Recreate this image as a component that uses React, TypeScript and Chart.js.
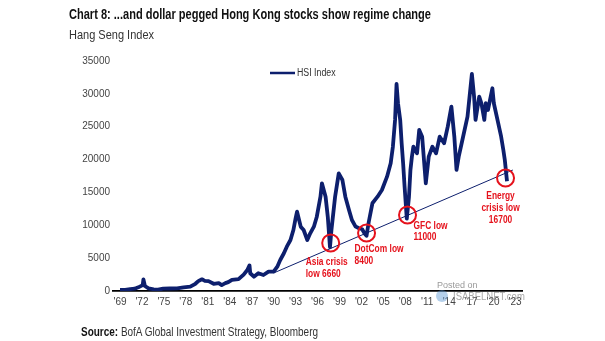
import React, { useEffect, useLayoutEffect, useRef } from 'react';
import { Chart, registerables } from 'chart.js';

Chart.register(...registerables);

// ---- data (x in axis-label years) ----
const hsiYears = [
  1969.0, 1969.7, 1970.4, 1971.0, 1971.5, 1972.1, 1972.2, 1972.4, 1972.9, 1973.6,
  1974.2, 1974.9, 1975.8, 1976.8, 1977.7, 1978.6, 1979.3, 1979.7, 1980.2, 1980.6,
  1981.1, 1981.8, 1982.5, 1982.9, 1983.4, 1983.8, 1984.3, 1985.2, 1985.9, 1986.4,
  1986.7, 1986.8, 1987.3, 1987.9, 1988.6, 1989.3, 1990.0, 1990.5, 1990.9, 1991.4,
  1991.8, 1992.3, 1992.7, 1993.0, 1993.2, 1993.7, 1994.1, 1994.6, 1995.0, 1995.5,
  1995.9, 1996.4, 1996.6, 1997.1, 1997.4, 1997.7, 1997.9, 1998.4, 1998.9, 1999.4,
  1999.8, 2000.3, 2000.7, 2001.2, 2001.6, 2002.1, 2002.4, 2002.7, 2003.0, 2003.5,
  2004.2, 2004.8, 2005.5, 2006.0, 2006.3, 2006.6, 2006.8, 2007.0, 2007.3, 2007.5,
  2007.7, 2007.9, 2008.2, 2008.5, 2008.7, 2008.9, 2009.1, 2009.6, 2009.9, 2010.3,
  2010.8, 2011.2, 2011.7, 2012.2, 2012.7, 2013.3, 2013.8, 2014.3, 2014.7, 2015.0,
  2015.3, 2015.8, 2016.5, 2017.1, 2017.4, 2017.6, 2018.1, 2018.4, 2018.8, 2019.0,
  2019.3, 2019.9, 2020.1, 2020.6, 2021.1, 2021.4, 2021.6, 2021.9,
];
const hsiValues = [
  150, 180, 300, 350, 560, 900, 1780, 760, 400, 260,
  200, 350, 380, 400, 560, 650, 1100, 1500, 1780, 1550,
  1500, 1100, 1200, 900, 1200, 1350, 1700, 1800, 2500, 3200,
  3900, 2700, 2180, 2700, 2430, 2940, 2940, 3700, 4720, 5740,
  6750, 7760, 9280, 11060, 12070, 9790, 9280, 7760, 8780, 9790,
  11310, 14350, 16390, 14350, 11310, 6660, 9280, 14350, 17900, 16890,
  14350, 12330, 10800, 9800, 9600, 9400, 8800, 8400, 10500, 13350,
  14350, 15370, 17400, 19430, 21960, 26030, 31500, 28570, 26030, 22480,
  19430, 15870, 11000, 14350, 18420, 20440, 21960, 20950, 24500, 23480,
  16390, 20440, 21960, 20950, 23480, 22480, 25010, 28050, 23480, 18420,
  20440, 22980, 26530, 33030, 29570, 26030, 29570, 28570, 26030, 28570,
  27550, 30850, 28570, 26030, 23480, 21460, 19940, 16700,
];
const trendYears = [1990.0, 2022.7];
const trendValues = [2740, 18410];

const xTickYears = [1969, 1972, 1975, 1978, 1981, 1984, 1987, 1990, 1993, 1996, 1999, 2002, 2005, 2008, 2011, 2014, 2017, 2020, 2023];
const yTickValues = [0, 5000, 10000, 15000, 20000, 25000, 30000, 35000];

const annoYears = [1997.8, 2002.7, 2008.3, 2021.7];
const annoValues = [7300, 8830, 11560, 17190];
const annoLabels = [
  ['Asia crisis', 'low 6660'],
  ['DotCom low', '8400'],
  ['GFC low', '11000'],
  ['Energy', 'crisis low', '16700'],
];

// ---- styles / layout ----
const NAVY = '#0d1f6d';
const RED = '#e5121c';
const SANS = '"Liberation Sans", Arial, sans-serif';
// text placement relative to each circle: [dx, dy of first line, line height, align]
const annoPlacement: [number, number, number, CanvasTextAlign][] = [
  [-25, 19, 12, 'left'],
  [-12, 16, 12, 'left'],
  [6, 11, 11, 'left'],
  [-5, 18, 12, 'center'],
];

function drawCondensed(ctx: CanvasRenderingContext2D, text: string, x: number, y: number, sx: number, align: CanvasTextAlign) {
  ctx.save();
  ctx.translate(x, y);
  ctx.scale(sx, 1);
  ctx.textAlign = align;
  ctx.fillText(text, 0, 0);
  ctx.restore();
}

const overlayPlugin = {
  id: 'overlay',
  afterDatasetsDraw(chart: any) {
    const ctx: CanvasRenderingContext2D = chart.ctx;
    const xs = chart.scales.x;
    const ys = chart.scales.y;
    const area = chart.chartArea;
    ctx.save();
    // legend
    const lx = area.left + 157;
    const ly = area.top + 12;
    ctx.strokeStyle = NAVY;
    ctx.lineWidth = 2.5;
    ctx.beginPath();
    ctx.moveTo(lx, ly);
    ctx.lineTo(lx + 25, ly);
    ctx.stroke();
    ctx.fillStyle = '#333';
    ctx.font = `10px ${SANS}`;
    ctx.textBaseline = 'middle';
    drawCondensed(ctx, 'HSI Index', lx + 27, ly + 0.5, 0.88, 'left');

    // annotations
    for (let i = 0; i < annoYears.length; i++) {
      const cx = xs.getPixelForValue(annoYears[i]);
      const cy = ys.getPixelForValue(annoValues[i]);
      ctx.strokeStyle = RED;
      ctx.lineWidth = 2;
      ctx.beginPath();
      ctx.arc(cx, cy, 8.5, 0, Math.PI * 2);
      ctx.stroke();
      const [dx, dy, lh, align] = annoPlacement[i];
      ctx.fillStyle = RED;
      ctx.font = `bold 10.5px ${SANS}`;
      ctx.textBaseline = 'middle';
      annoLabels[i].forEach((t, k) => {
        drawCondensed(ctx, t, cx + dx, cy + dy + k * lh, 0.8, align);
      });
    }

    // watermark
    ctx.fillStyle = '#9a9a9a';
    ctx.textBaseline = 'middle';
    ctx.font = `9px ${SANS}`;
    drawCondensed(ctx, 'Posted on', 437, 286, 1, 'left');
    ctx.font = `10px ${SANS}`;
    ctx.fillStyle = 'rgba(130,130,130,0.7)';
    drawCondensed(ctx, 'ISABELNET.com', 453, 297, 0.95, 'left');
    ctx.fillStyle = 'rgba(90,150,210,0.45)';
    ctx.beginPath();
    ctx.arc(442, 296, 6, 0, Math.PI * 2);
    ctx.fill();
    ctx.restore();
  },
};

function FitText({ left, top, width, style, children }: any) {
  const ref = useRef<HTMLSpanElement>(null);
  useLayoutEffect(() => {
    const el = ref.current;
    if (!el) return;
    el.style.transform = 'none';
    const w = el.getBoundingClientRect().width;
    if (w > 0) el.style.transform = `scaleX(${width / w})`;
  });
  return (
    <span
      ref={ref}
      style={{ position: 'absolute', left, top, whiteSpace: 'nowrap', transformOrigin: '0 0', lineHeight: 1, ...style }}
    >
      {children}
    </span>
  );
}

export default function App() {
  const canvasRef = useRef<HTMLCanvasElement>(null);

  useEffect(() => {
    document.body.style.margin = '0';
    const canvas = canvasRef.current;
    if (!canvas) return;
    const chart = new Chart(canvas, {
      type: 'line',
      data: {
        datasets: [
          {
            label: 'HSI Index',
            data: hsiYears.map((x, i) => ({ x, y: hsiValues[i] })),
            borderColor: NAVY,
            borderWidth: 3.8,
            pointRadius: 0,
            tension: 0,
            borderJoinStyle: 'round',
          },
          {
            label: 'trend',
            data: trendYears.map((x, i) => ({ x, y: trendValues[i] })),
            borderColor: NAVY,
            borderWidth: 1,
            pointRadius: 0,
          },
        ],
      },
      options: {
        animation: false,
        responsive: false,
        layout: { padding: { left: 68, right: 83, top: 61, bottom: 30 } },
        plugins: { legend: { display: false }, tooltip: { enabled: false } },
        scales: {
          x: {
            type: 'linear',
            min: 1968.04,
            max: 2023.95,
            grid: { display: false, drawTicks: false },
            border: { color: '#000', width: 1.8 },
            afterBuildTicks: (s: any) => {
              s.ticks = xTickYears.map((v) => ({ value: v }));
            },
            afterFit: (s: any) => {
              s.height = 20;
            },
            ticks: {
              autoSkip: false,
              maxRotation: 0,
              padding: 5,
              color: '#444',
              font: { family: SANS, size: 10 },
              callback: (v: any) => "'" + String(v).slice(2),
            },
          },
          y: {
            min: 0,
            max: 35000,
            grid: { display: false, drawTicks: false },
            border: { display: false },
            afterBuildTicks: (s: any) => {
              s.ticks = yTickValues.map((v) => ({ value: v }));
            },
            afterFit: (s: any) => {
              s.width = 45;
            },
            ticks: {
              padding: 3,
              color: '#444',
              font: { family: SANS, size: 10 },
              callback: (v: any) => String(v),
            },
          },
        },
      },
      plugins: [overlayPlugin],
    });
    return () => chart.destroy();
  }, []);

  return (
    <div style={{ position: 'relative', width: 605, height: 341, background: '#fff', overflow: 'hidden' }}>
      <canvas ref={canvasRef} width={605} height={341} style={{ position: 'absolute', left: 0, top: 0, width: 605, height: 341 }} />
      <FitText left={69} top={6.3} width={362} style={{ fontFamily: SANS, fontWeight: 700, fontSize: 15.5, color: '#111' }}>
        Chart 8: ...and dollar pegged Hong Kong stocks show regime change
      </FitText>
      <FitText left={69} top={28.3} width={85} style={{ fontFamily: SANS, fontSize: 13, color: '#333' }}>
        Hang Seng Index
      </FitText>
      <FitText left={81} top={325.7} width={237} style={{ fontFamily: SANS, fontSize: 12, color: '#333' }}>
        <b style={{ color: '#111' }}>Source:</b>{'  '}BofA Global Investment Strategy, Bloomberg
      </FitText>
    </div>
  );
}
